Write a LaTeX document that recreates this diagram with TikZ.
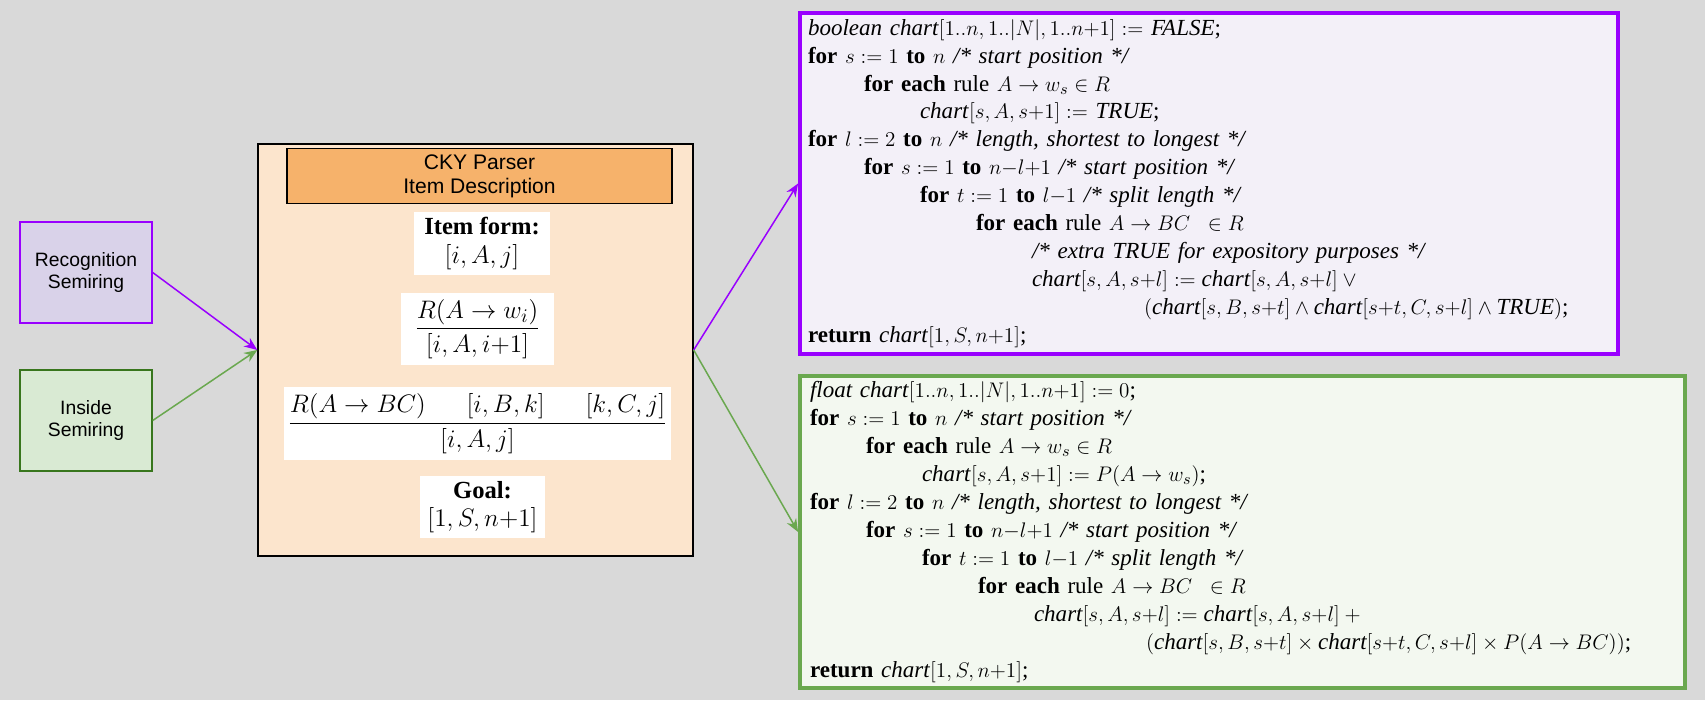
\documentclass[tikz,border=0pt]{standalone}
\usepackage{amsmath}
\usepackage{fontspec}
\setmainfont{Liberation Serif}
\newfontfamily\labelfont{Liberation Sans}
\usetikzlibrary{arrows.meta,positioning}

\definecolor{bggray}{HTML}{D9D9D9}
\definecolor{recfill}{HTML}{D9D2E9}
\definecolor{recline}{HTML}{9900FF}
\definecolor{insfill}{HTML}{D9EAD3}
\definecolor{insline}{HTML}{38761D}
\definecolor{insarrow}{HTML}{6AA84F}
\definecolor{parsefill}{HTML}{FCE5CD}
\definecolor{headfill}{HTML}{F6B26B}
\definecolor{recode}{HTML}{F3F0F8}
\definecolor{inscode}{HTML}{F3F8F0}

\newlength{\codestep}
\setlength{\codestep}{1.12cm}
\newcommand{\kw}[1]{\textbf{#1}}
\newcommand{\ch}{\textit{chart}}
\newcommand{\ind}[1]{\hspace*{#1\codestep}}

\tikzset{
 semiring/.style={draw, line width=0.8pt, minimum width=2.64cm, minimum height=2.02cm,
   align=center, font=\labelfont\fontsize{11}{13}\selectfont},
 itembox/.style={fill=white, inner sep=0pt, align=center, font=\fontsize{14.5}{16}\selectfont},
 codebox/.style={line width=2.2pt, align=left, inner xsep=0.16cm, text width=16.04cm,
   font=\fontsize{13.1}{15.9}\selectfont},
 link/.style={-{Stealth[length=7.5pt,width=6pt]}, line width=0.85pt}
}

\begin{document}
\begin{tikzpicture}
 \fill[bggray] (0,0) rectangle (34.1,14);
 \useasboundingbox (0,0) rectangle (34.1,14);

 % semirings on the left
 \node[semiring, fill=recfill, draw=recline] (rec) at (1.72,8.55) {Recognition\\Semiring};
 \node[semiring, fill=insfill, draw=insline] (ins) at (1.72,5.59) {Inside\\Semiring};

 % parser description
 \node[draw, fill=parsefill, line width=0.8pt, minimum width=8.7cm, minimum height=8.24cm] (parser) at (9.51,7) {};
 \node[draw, fill=headfill, line width=0.8pt, minimum width=7.7cm, minimum height=0.96cm,
   align=center, font=\labelfont\fontsize{12}{13.5}\selectfont] (head) at (9.59,10.48) {CKY Parser\\Item Description};
 \node[itembox, minimum width=2.72cm, minimum height=1.26cm] (form) at (9.64,9.13)
   {{\fontsize{14}{16}\selectfont\bfseries Item form:}\\$[i, A, j]$};
 \node[itembox, minimum width=3.06cm, minimum height=1.44cm, font=\fontsize{15.5}{17}\selectfont] (lex) at (9.55,7.42)
   {$\dfrac{R(A \rightarrow w_i)}{[i, A, i{+}1]}$};
 \node[itembox, minimum width=7.74cm, minimum height=1.46cm] (bin) at (9.55,5.53)
   {$\dfrac{R(A \rightarrow BC)\hspace{1.6em}[i, B, k]\hspace{1.6em}[k, C, j]}{[i, A, j]}$};
 \node[itembox, minimum width=2.5cm, minimum height=1.24cm] (goal) at (9.65,3.86)
   {{\fontsize{14}{16}\selectfont\bfseries Goal:}\\$[1, S, n{+}1]$};

 % algorithms on the right
 \node[codebox, draw=recline, fill=recode, minimum height=6.82cm] (reccode) at (24.18,10.33) {%
  \textit{boolean chart}$[1..n, 1..|N|, 1..n{+}1] :=$ \textit{FALSE};\\
  \kw{for} $s := 1$ \kw{to} $n$ \textit{/* start position */}\\
  \ind{1}\kw{for each} rule $A \rightarrow w_s \in R$\\
  \ind{2}\ch$[s, A, s{+}1] :=$ \textit{TRUE};\\
  \kw{for} $l := 2$ \kw{to} $n$ \textit{/* length, shortest to longest */}\\
  \ind{1}\kw{for} $s := 1$ \kw{to} $n{-}l{+}1$ \textit{/* start position */}\\
  \ind{2}\kw{for} $t := 1$ \kw{to} $l{-}1$ \textit{/* split length */}\\
  \ind{3}\kw{for each} rule $A \rightarrow BC\;\; \in R$\\
  \ind{4}\textit{/* extra TRUE for expository purposes */}\\
  \ind{4}$\ch[s, A, s{+}l] := \ch[s, A, s{+}l] \vee{}$\\
  \ind{6}\mbox{$(\ch[s, B, s{+}t] \wedge \ch[s{+}t, C, s{+}l] \wedge \textit{TRUE})$;}\\
  \kw{return} \ch$[1, S, n{+}1]$;};
 \node[codebox, draw=insarrow, fill=inscode, inner xsep=0.2cm, text width=17.3cm, minimum height=6.2cm] (inscode) at (24.85,3.36) {%
  \textit{float chart}$[1..n, 1..|N|, 1..n{+}1] := 0$;\\
  \kw{for} $s := 1$ \kw{to} $n$ \textit{/* start position */}\\
  \ind{1}\kw{for each} rule $A \rightarrow w_s \in R$\\
  \ind{2}\ch$[s, A, s{+}1] := P(A \rightarrow w_s)$;\\
  \kw{for} $l := 2$ \kw{to} $n$ \textit{/* length, shortest to longest */}\\
  \ind{1}\kw{for} $s := 1$ \kw{to} $n{-}l{+}1$ \textit{/* start position */}\\
  \ind{2}\kw{for} $t := 1$ \kw{to} $l{-}1$ \textit{/* split length */}\\
  \ind{3}\kw{for each} rule $A \rightarrow BC\;\; \in R$\\
  \ind{4}$\ch[s, A, s{+}l] := \ch[s, A, s{+}l] +{}$\\
  \ind{6}\mbox{$(\ch[s, B, s{+}t] \times \ch[s{+}t, C, s{+}l] \times P(A \rightarrow BC))$;}\\
  \kw{return} \ch$[1, S, n{+}1]$;};

 \draw[link, recline] (rec.east) -- (parser.west);
 \draw[link, insarrow] (ins.east) -- (parser.west);
 \draw[link, recline] (parser.east) -- (reccode.west);
 \draw[link, insarrow] (parser.east) -- (inscode.west);
\end{tikzpicture}
\end{document}
